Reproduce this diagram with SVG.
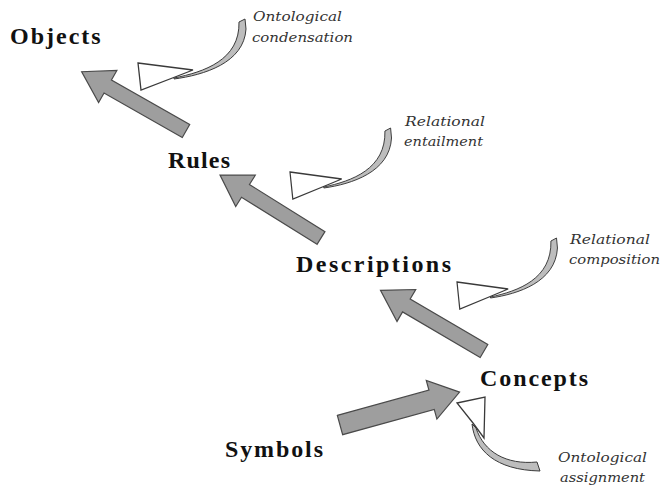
<svg xmlns="http://www.w3.org/2000/svg" width="664" height="488" viewBox="0 0 664 488">
  <style>
    .node { font-family: "Liberation Serif", "Times New Roman", serif; font-size: 24px; font-weight: bold; fill: #111; letter-spacing: 2px; }
    .note { font-family: "DejaVu Serif", "Liberation Serif", serif; font-size: 13px; font-style: italic; fill: #333; }
    .big { fill: #9e9e9e; stroke: #4a4a4a; stroke-width: 1.2; stroke-linejoin: miter; }
    .head { fill: #ffffff; stroke: #3a3a3a; stroke-width: 1.3; stroke-linejoin: miter; }
    .tail { fill: #bdbdbd; stroke: #3a3a3a; stroke-width: 1; }
  </style>
  <defs>
    <!-- curved hollow arrow: swept grey tail ending in a white dart head -->
    <g id="curl">
      <path class="tail" d="M36,16 C66,12 106,0 108,-34 L107,-44 L101,-41 C102,-3 66,9 36,15 Z"/>
      <path class="head" d="M0,0 L55,7 L37,14 L3,27 Z"/>
    </g>
  </defs>

  <rect width="664" height="488" fill="#ffffff"/>

  <g id="connectors">
    <!-- straight block arrows between levels -->
    <polygon class="big" transform="translate(186,131) rotate(209.6)" points="0,-7.5 90,-7.5 90,-18.5 120,0 90,18.5 90,7.5 0,7.5"/>
    <polygon class="big" transform="translate(321,238) rotate(211.95)" points="0,-7.5 89,-7.5 89,-18.5 119,0 89,18.5 89,7.5 0,7.5"/>
    <polygon class="big" transform="translate(484,351) rotate(210.4)" points="0,-7.5 90,-7.5 90,-18.5 120,0 90,18.5 90,7.5 0,7.5"/>
    <polygon class="big" transform="translate(340,425) rotate(-15.4)" points="0,-10 95,-10 95,-20 124,0 95,20 95,10 0,10"/>

    <!-- curved process arrows with their labels -->
    <g id="ontological-condensation">
      <use href="#curl" transform="translate(138,63)"/>
      <text class="note" x="253" y="21" textLength="89" lengthAdjust="spacingAndGlyphs">Ontological</text>
      <text class="note" x="252" y="42" textLength="101" lengthAdjust="spacingAndGlyphs">condensation</text>
    </g>
    <g id="relational-entailment">
      <use href="#curl" transform="translate(290,172) scale(0.94,1)"/>
      <text class="note" x="405" y="126" textLength="80" lengthAdjust="spacingAndGlyphs">Relational</text>
      <text class="note" x="404" y="146" textLength="79" lengthAdjust="spacingAndGlyphs">entailment</text>
    </g>
    <g id="relational-composition">
      <use href="#curl" transform="translate(457,282) scale(0.93,1)"/>
      <text class="note" x="570" y="244" textLength="80" lengthAdjust="spacingAndGlyphs">Relational</text>
      <text class="note" x="569" y="264" textLength="91" lengthAdjust="spacingAndGlyphs">composition</text>
    </g>
    <g id="ontological-assignment">
      <path class="tail" d="M472,424 C475,450 495,470 540,471 L537,462 C506,465 484,452 476,428 Z"/>
      <path class="head" d="M457,403 L485,397 L484,438 L473,423 Z"/>
      <text class="note" x="558" y="462" textLength="89" lengthAdjust="spacingAndGlyphs">Ontological</text>
      <text class="note" x="560" y="482" textLength="85" lengthAdjust="spacingAndGlyphs">assignment</text>
    </g>
  </g>

  <g id="objects"><text class="node" x="10" y="44">Objects</text></g>
  <g id="rules"><text class="node" x="168" y="168" textLength="64">Rules</text></g>
  <g id="descriptions"><text class="node" x="296" y="272" textLength="157">Descriptions</text></g>
  <g id="concepts"><text class="node" x="480" y="386" textLength="110">Concepts</text></g>
  <g id="symbols"><text class="node" x="225" y="457" textLength="100">Symbols</text></g>
</svg>
